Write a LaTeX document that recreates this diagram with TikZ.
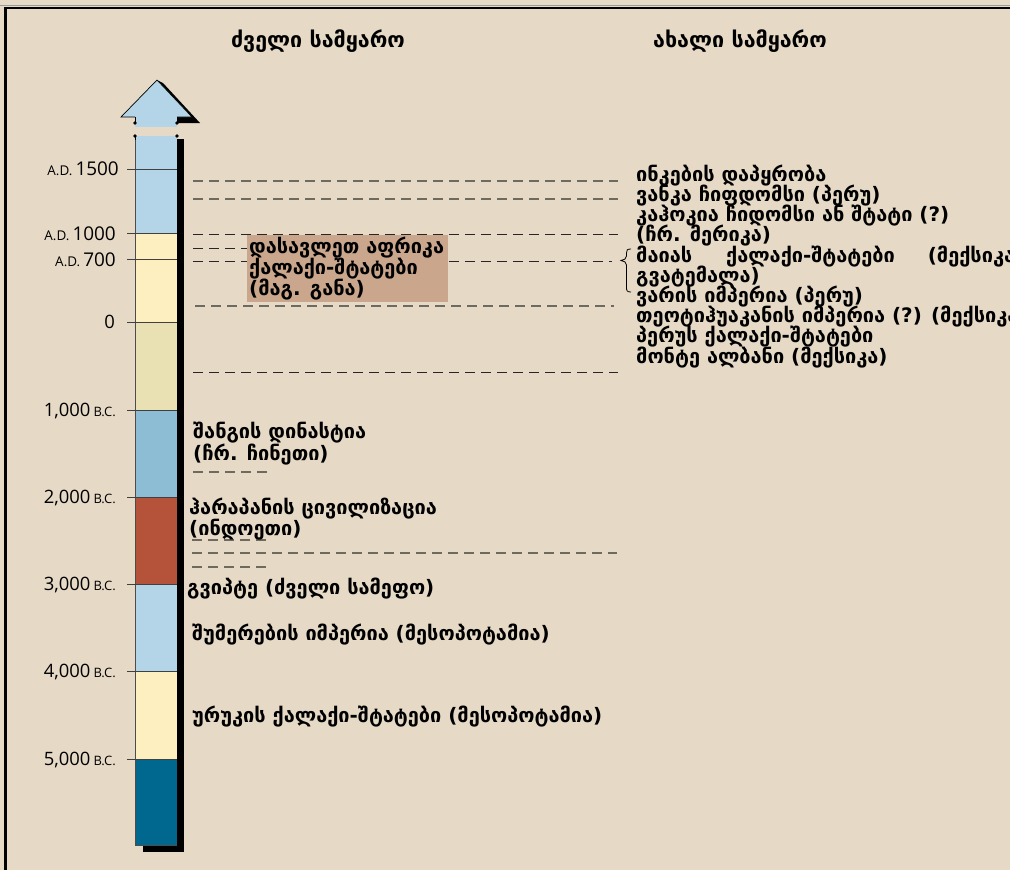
\documentclass[tikz,border=0pt]{standalone}
\usepackage{fontspec}
\newfontfamily\geo{DejaVu Sans}
\newfontfamily\lab{Open Sans}
\definecolor{bg}{HTML}{E6DAC6}
\definecolor{lblue}{HTML}{B4D5E7}
\definecolor{cream}{HTML}{FEEFC0}
\definecolor{olive}{HTML}{E9E1B3}
\definecolor{mblue}{HTML}{8DBCD5}
\definecolor{rust}{HTML}{B5533A}
\definecolor{dteal}{HTML}{00688F}
\definecolor{boxbrown}{HTML}{C9A68C}
\definecolor{dgray}{HTML}{6F6A60}
\begin{document}
\begin{tikzpicture}[x=1bp,y=-1bp,
  gtext/.style={inner sep=0pt,font=\geo\bfseries\fontsize{20}{22}\selectfont,anchor=base west},
  htext/.style={inner sep=0pt,font=\geo\bfseries\fontsize{21.5}{24}\selectfont,anchor=base},
  yr/.style={inner sep=0pt,anchor=base east,font=\lab\fontsize{19}{22}\selectfont},
  yrb/.style={inner sep=0pt,anchor=base east,font=\lab\fontsize{18.5}{21}\selectfont},
  gdash/.style={draw=dgray,line width=1.4bp,dash pattern=on 10bp off 6bp},
  kdash/.style={draw=black!85,line width=0.8bp,dash pattern=on 10bp off 6bp},
  tickline/.style={draw=black!75,line width=0.9bp}]
\useasboundingbox (0,0) rectangle (1010,870);
\fill[bg] (0,0) rectangle (1010,870);
\clip (0,0) rectangle (1010,870);
% frame
\draw[black!40,line width=1bp] (0,5.5) -- (1010,5.5);
\draw[line width=2.4bp] (5.5,870) -- (5.5,8) -- (1010,8);
% headers
\node[htext] (hold) at (318,47) {ძველი სამყარო};
\node[htext] (hnew) at (740,47) {ახალი სამყარო};
% column shadow
\fill[black] (177,139) rectangle (183.5,852);
\fill[black] (143,845) rectangle (183.5,852);
% column segments
\fill[lblue] (135,136) rectangle (177,233);
\fill[cream] (135,233) rectangle (177,322);
\fill[olive] (135,322) rectangle (177,410);
\fill[mblue] (135,410) rectangle (177,497);
\fill[rust] (135,497) rectangle (177,584);
\fill[lblue] (135,584) rectangle (177,671);
\fill[cream] (135,671) rectangle (177,759);
\fill[dteal] (135,759) rectangle (177,845);
\draw[black!70,line width=0.8bp] (135,136) -- (135,845) -- (177,845);
% arrow head
\fill[black] (157,80) -- (163,83) -- (200,123) -- (177,123) -- (177,117) -- (192,117) -- cycle;
\fill[lblue] (135,116) rectangle (177,127);
\filldraw[fill=lblue,draw=black,line width=0.7bp] (135,117) -- (121,117) -- (157,80) -- (192,117) -- (177,117);
\draw[black,line width=0.8bp] (135,117) -- (135,123) (177,117) -- (177,123) (135,136) -- (135,140);
\foreach \p in {(135,123),(177,123),(135,136),(177,136)} \fill[black] \p circle (1.9bp);
% ticks
\foreach \t in {169,233,259,322,410,497,584,671,759} \draw[tickline] (127,\t) -- (177,\t);
% year labels
\node[yr] (y1500) at (119,175) {{\lab\fontsize{13.5}{15}\selectfont A.D.}\,1500};
\node[yr] (y1000) at (116,240) {{\lab\fontsize{13.5}{15}\selectfont A.D.}\,1000};
\node[yr] (y700) at (116,266) {{\lab\fontsize{13.5}{15}\selectfont A.D.}\,700};
\node[yrb] (y0) at (115,328) {0};
\node[yrb] (b1) at (116,416) {1,000\,{\lab\fontsize{13}{15}\selectfont B.C.}};
\node[yrb] (b2) at (116,503) {2,000\,{\lab\fontsize{13}{15}\selectfont B.C.}};
\node[yrb] (b3) at (116,590) {3,000\,{\lab\fontsize{13}{15}\selectfont B.C.}};
\node[yrb] (b4) at (116,677) {4,000\,{\lab\fontsize{13}{15}\selectfont B.C.}};
\node[yrb] (b5) at (116,765) {5,000\,{\lab\fontsize{13}{15}\selectfont B.C.}};
% dashed lines (upper)
\draw[gdash] (193,181) -- (618,181);
\draw[gdash] (193,199) -- (618,199);
\draw[kdash] (193,234) -- (618,234);
\draw[kdash] (193,248) -- (248,248);
\draw[kdash] (193,261) -- (612,261);
\draw[gdash] (195,306) -- (614,306);
\draw[kdash] (193,372) -- (618,372);
% box
\node[fill=boxbrown,minimum width=201bp,minimum height=67bp,inner sep=0pt,anchor=north west] (wafr) at (247,235) {};
\node[gtext] (wa1) at (249,253) {დასავლეთ აფრიკა};
\node[gtext] (wa2) at (249,274) {ქალაქი-შტატები};
\node[gtext] (wa3) at (249,295) {(მაგ. განა)};
% dashed lines (lower)
\draw[gdash] (193,472) -- (268,472);
\draw[gdash] (192,540) -- (268,540);
\draw[gdash] (192,553) -- (617,553);
\draw[gdash] (192,567) -- (268,567);
% brace
\draw[black,line width=0.8bp] (631,249) .. controls (627,249) and (626.5,250) .. (626.5,253) -- (626.5,256) .. controls (626.5,259) and (624,260) .. (621,260.5) .. controls (624,261) and (626.5,262) .. (626.5,265) -- (626.5,287) .. controls (626.5,291) and (627,292) .. (631,292);
% right texts
\node[gtext] (r1) at (636,181) {ინკების დაპყრობა};
\node[gtext] (r2) at (636,201) {ვანკა ჩიფდომსი (პერუ)};
\node[gtext] (r3) at (636,221.5) {კაჰოკია ჩიდომსი ან შტატი (?)};
\node[gtext] (r4) at (636,241.5) {(ჩრ. მერიკა)};
\node[gtext] (r5) at (636,262) {მაიას\hspace{34bp}ქალაქი-შტატები\hspace{33bp}(მექსიკა};
\node[gtext] (r6) at (636,282) {გვატემალა)};
\node[gtext] (r7) at (636,302) {ვარის იმპერია (პერუ)};
\node[gtext] (r8) at (636,322.5) {თეოტიჰუაკანის იმპერია (?) (მექსიკა};
\node[gtext] (r9) at (636,342.5) {პერუს ქალაქი-შტატები};
\node[gtext] (r10) at (636,363) {მონტე ალბანი (მექსიკა)};
% left texts
\node[gtext] (l1) at (193,438) {შანგის დინასტია};
\node[gtext] (l2) at (193,460) {(ჩრ. ჩინეთი)};
\node[gtext] (l3) at (189,514) {ჰარაპანის ცივილიზაცია};
\node[gtext] (l4) at (189,535) {(ინდოეთი)};
\node[gtext] (l5) at (187,594) {გვიპტე (ძველი სამეფო)};
\node[gtext] (l6) at (192,640) {შუმერების იმპერია (მესოპოტამია)};
\node[gtext] (l7) at (192,722) {ურუკის ქალაქი-შტატები (მესოპოტამია)};
\end{tikzpicture}
\end{document}
